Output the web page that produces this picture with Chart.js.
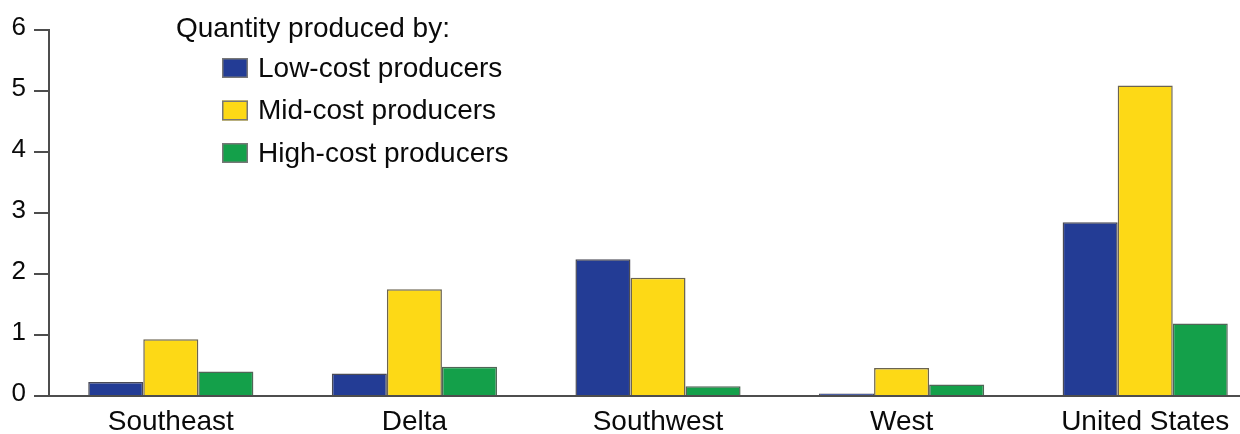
<!DOCTYPE html>
<html>
<head>
<meta charset="utf-8">
<script src="https://cdn.jsdelivr.net/npm/chart.js@4.4.1/dist/chart.umd.min.js"></script>
<style>
  html, body { margin: 0; padding: 0; background: #fff; overflow: hidden; }
  #wrap { width: 1267px; height: 434px; }
</style>
</head>
<body>
<div id="wrap"><canvas id="quantity_chart" width="1267" height="434"></canvas></div>
<script>
// Data
const regions = ['Southeast', 'Delta', 'Southwest', 'West', 'United States']
const lowCost = [0.23, 0.37, 2.24, 0.04, 2.85]
const midCost = [0.93, 1.75, 1.94, 0.46, 5.09]
const highCost = [0.40, 0.48, 0.16, 0.19, 1.19]
const seriesNames = ['Low-cost producers', 'Mid-cost producers', 'High-cost producers']
const legendTitle = 'Quantity produced by:'
const yTicks = [0, 1, 2, 3, 4, 5, 6]

const ctx_quantity = document.getElementById('quantity_chart');
const fontFamily = '"Liberation Sans", Arial, Helvetica, sans-serif'
const textColor = '#0a0a0a'
const axisColor = '#4d4d4d'

// Draws the legend inside the plot, upper left
const insideLegend = {
  id: 'insideLegend',
  afterDraw(chart) {
    const c = chart.ctx
    c.save()
    c.fillStyle = textColor
    c.textBaseline = 'middle'
    c.textAlign = 'left'
    c.font = `28px ${fontFamily}`
    c.fillText(legendTitle, 176, 29)
    chart.data.datasets.forEach((dataset, i) => {
      const y = 68 + i * 42.5
      c.fillStyle = dataset.backgroundColor
      c.fillRect(222, y - 10, 26, 20)
      c.strokeStyle = '#777'
      c.lineWidth = 1.5
      c.strokeRect(222.75, y - 9.25, 24.5, 18.5)
      c.fillStyle = textColor
      c.fillText(dataset.label, 258, y + 1)
    })
    c.restore()
  }
}

const quantity_bar = new Chart(ctx_quantity, {
  type: 'bar',
  data: {
    labels: regions,
    datasets: [
      { label: seriesNames[0], data: lowCost, backgroundColor: '#233c95', borderColor: '#4a4a55' },
      { label: seriesNames[1], data: midCost, backgroundColor: '#fdd916', borderColor: '#6b6450' },
      { label: seriesNames[2], data: highCost, backgroundColor: '#14a04a', borderColor: '#4f6656' }
    ]
  },
  options: {
    responsive: false,
    animation: false,
    layout: { padding: { top: 30, right: 0, left: 0, bottom: 0 } },
    datasets: {
      bar: {
        borderWidth: 1.5,
        categoryPercentage: 0.678,
        barPercentage: 1.0
      }
    },
    plugins: {
      legend: { display: false },
      tooltip: { enabled: false }
    },
    scales: {
      x: {
        grid: { display: false },
        border: { display: true, color: axisColor, width: 2 },
        ticks: {
          color: textColor,
          padding: 1,
          font: { family: fontFamily, size: 28 },
          maxRotation: 0
        },
        afterFit: (scale) => { scale.height = 38 }
      },
      y: {
        min: 0,
        max: 6,
        afterBuildTicks: (scale) => { scale.ticks = yTicks.map(v => ({ value: v })) },
        grid: {
          drawOnChartArea: false,
          drawTicks: true,
          tickLength: 15,
          color: axisColor,
          lineWidth: 2
        },
        border: { display: true, color: axisColor, width: 2 },
        ticks: {
          color: textColor,
          padding: 8,
          labelOffset: -2,
          font: { family: fontFamily, size: 26 }
        },
        afterFit: (scale) => { scale.width = 49 }
      }
    }
  },
  plugins: [insideLegend]
});
</script>
</body>
</html>
